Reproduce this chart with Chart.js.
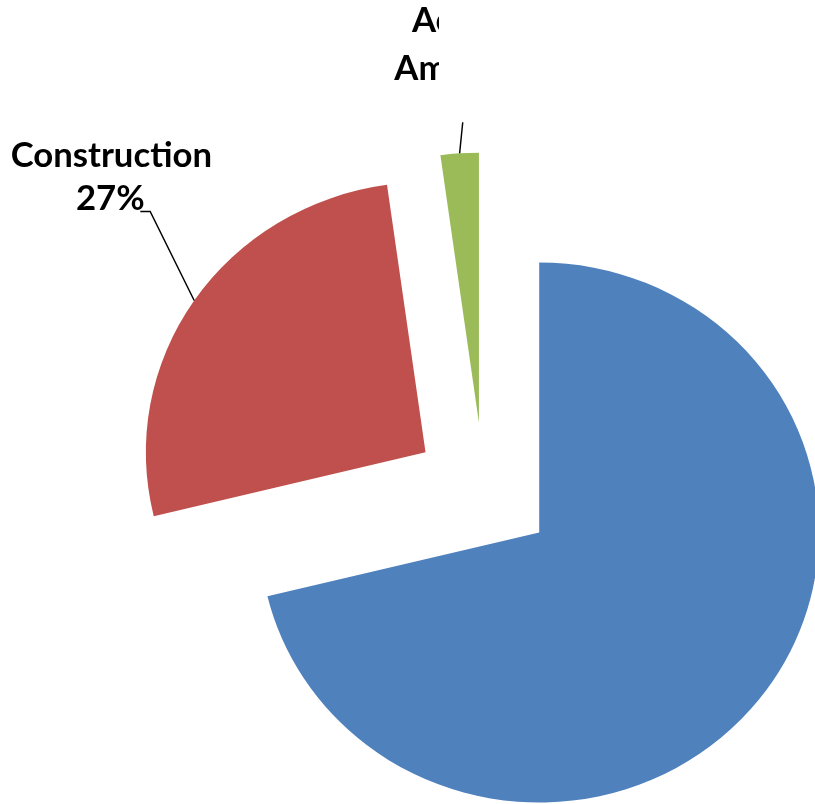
<!DOCTYPE html>
<html>
<head>
<meta charset="utf-8">
<script src="https://cdn.jsdelivr.net/npm/chart.js@4.4.0/dist/chart.umd.min.js"></script>
<style>
    html, body { margin: 0; padding: 0; background: #fff; overflow: hidden; }
    #wrap { position: relative; width: 815px; height: 804px; }
</style>
</head>
<body>
<div id="wrap"><canvas id="pieChart" width="815" height="804"></canvas></div>
<script>
// Chart data
const categories = ['Other', 'Construction', 'Ac'];
const shares = [71.2, 26.6, 2.2];
const sliceColors = ['#4F81BD', '#C0504D', '#9BBB59'];
// the green slice label is cut off in the source, only these bits show
const greenLabelBits = ['Ac', 'Am'];

// how far each slice is pulled out from the centre
const explode = [68, 68, 68];
// the source picture is a little wider than tall
const stretchX = 1.036;

const stretchPlugin = {
    id: 'stretch',
    beforeDraw(chart) {
        chart.ctx.save();
        chart.ctx.scale(stretchX, 1);
    },
    afterDraw(chart) {
        chart.ctx.restore();
    }
};

// Push every slice out along its own bisector
const explodePlugin = {
    id: 'explode',
    afterDatasetsUpdate(chart) {
        chart.getDatasetMeta(0).data.forEach((arc, i) => {
            const mid = (arc.startAngle + arc.endAngle) / 2;
            arc.x += Math.cos(mid) * explode[i];
            arc.y += Math.sin(mid) * explode[i];
        });
    }
};

function edgePoint(arc) {
    const mid = (arc.startAngle + arc.endAngle) / 2;
    return {
        x: arc.x + Math.cos(mid) * arc.outerRadius,
        y: arc.y + Math.sin(mid) * arc.outerRadius
    };
}

// Data labels with leader lines
const labelPlugin = {
    id: 'sliceLabels',
    afterDatasetsDraw(chart) {
        const ctx = chart.ctx;
        const arcs = chart.getDatasetMeta(0).data;
        ctx.save();
        ctx.strokeStyle = '#000';
        ctx.lineWidth = 1.4;
        ctx.fillStyle = '#000';
        ctx.font = 'bold 33.5px Lato';

        // Construction
        let a = edgePoint(arcs[1]);
        ctx.beginPath();
        ctx.moveTo(a.x, a.y);
        ctx.lineTo(a.x - 42.5, a.y - 89);
        ctx.lineTo(a.x - 52, a.y - 89);
        ctx.stroke();
        ctx.textAlign = 'center';
        ctx.textBaseline = 'alphabetic';
        ctx.fillText(categories[1], a.x - 80, a.y - 134);
        ctx.fillText(Math.round(shares[1]) + '%', a.x - 81, a.y - 91);

        // Green slice (label clipped)
        a = edgePoint(arcs[2]);
        ctx.beginPath();
        ctx.moveTo(a.x, a.y);
        ctx.lineTo(a.x + 3, a.y - 31);
        ctx.stroke();
        ctx.beginPath();
        ctx.rect(0, 0, a.x - 20, chart.height);
        ctx.clip();
        ctx.textAlign = 'left';
        ctx.fillText(greenLabelBits[0], a.x - 46, a.y - 121);
        ctx.fillText(greenLabelBits[1], a.x - 63, a.y - 73);
        ctx.restore();
    }
};

const ctx = document.getElementById('pieChart').getContext('2d');
const pieChart = new Chart(ctx, {
    type: 'pie',
    data: {
        labels: categories,
        datasets: [{
            data: shares,
            backgroundColor: sliceColors,
            borderWidth: 0,
            clip: false
        }]
    },
    options: {
        responsive: false,
        animation: false,
        events: [],
        radius: 270,
        layout: { padding: { left: 119, top: 177, right: 0, bottom: 0 } },
        plugins: {
            legend: { display: false },
            tooltip: { enabled: false }
        }
    },
    plugins: [stretchPlugin, explodePlugin, labelPlugin]
});
</script>
</body>
</html>
